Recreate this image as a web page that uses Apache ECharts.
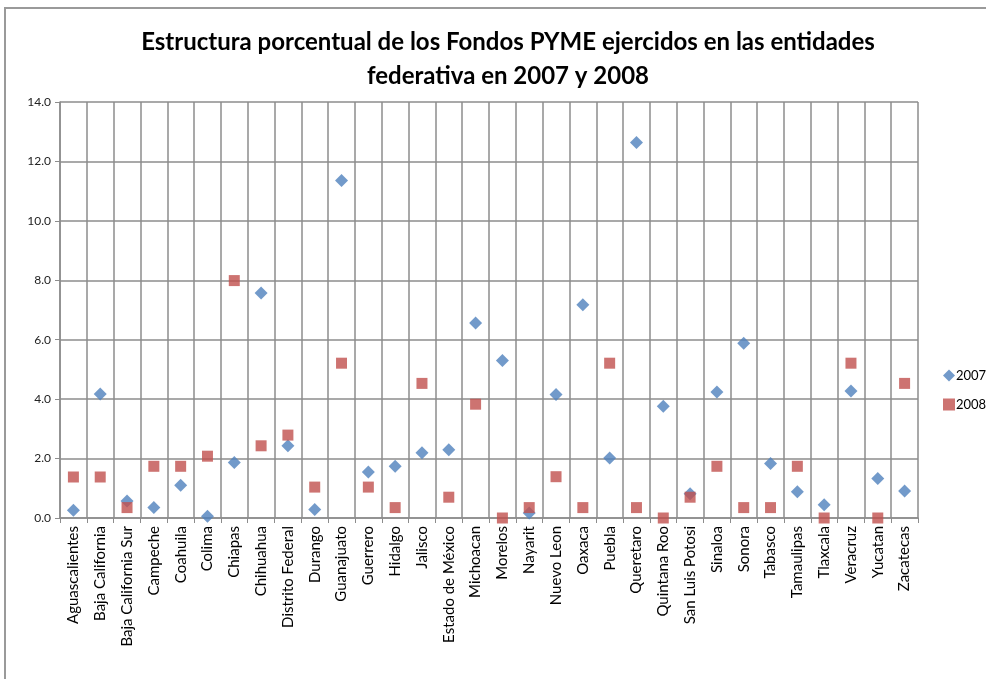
<!DOCTYPE html>
<html>
<head>
<meta charset="utf-8">
<script src="https://cdn.jsdelivr.net/npm/echarts@6/dist/echarts.min.js"></script>
<style>
html, body { margin: 0; padding: 0; background: #fff; }
#chart { width: 986px; height: 679px; }
</style>
</head>
<body>
<div id="chart"></div>
<script>
var estados = ['Aguascalientes', 'Baja California', 'Baja California Sur', 'Campeche', 'Coahuila',
    'Colima', 'Chiapas', 'Chihuahua', 'Distrito Federal', 'Durango', 'Guanajuato', 'Guerrero',
    'Hidalgo', 'Jalisco', 'Estado de México', 'Michoacan', 'Morelos', 'Nayarit', 'Nuevo Leon',
    'Oaxaca', 'Puebla', 'Queretaro', 'Quintana Roo', 'San Luis Potosi', 'Sinaloa', 'Sonora',
    'Tabasco', 'Tamaulipas', 'Tlaxcala', 'Veracruz', 'Yucatan', 'Zacatecas'];

var valores2007 = [0.26, 4.17, 0.57, 0.35, 1.10, 0.06, 1.87, 7.57, 2.43, 0.29, 11.36, 1.55,
    1.74, 2.20, 2.30, 6.56, 5.30, 0.17, 4.16, 7.18, 2.02, 12.64, 3.76, 0.82, 4.24, 5.88,
    1.83, 0.88, 0.45, 4.27, 1.33, 0.91];

var valores2008 = [1.38, 1.38, 0.35, 1.74, 1.74, 2.08, 7.99, 2.43, 2.79, 1.04, 5.21, 1.04,
    0.35, 4.53, 0.70, 3.83, 0.00, 0.35, 1.39, 0.35, 5.21, 0.35, 0.00, 0.70, 1.74, 0.35,
    0.35, 1.74, 0.00, 5.21, 0.00, 4.53];

var azul = '#4f81bd';
var rojo = '#c0504d';
var gris = '#8c8c8c';

var myChart = echarts.init(document.getElementById('chart'));

var option = {
    backgroundColor: '#fff',
    animation: false,
    textStyle: { fontFamily: 'Lato' },
    title: {
        text: 'Estructura porcentual de los Fondos PYME ejercidos en las entidades\nfederativa en 2007 y 2008',
        left: 503,
        textAlign: 'center',
        top: 20,
        textStyle: {
            fontFamily: 'Lato',
            fontWeight: 'bold',
            fontSize: 24,
            lineHeight: 34,
            color: '#000'
        }
    },
    graphic: [{
        type: 'rect',
        shape: { x: 5, y: 8, width: 1100, height: 800 },
        style: { fill: 'none', stroke: '#9a9a9a', lineWidth: 2 },
        silent: true
    }],
    legend: {
        orient: 'vertical',
        left: 938,
        top: 364,
        itemWidth: 12,
        itemHeight: 12,
        itemGap: 16,
        textStyle: { fontSize: 13, color: '#000', padding: [0, 0, 0, -4] },
        data: [
            { name: '2007', icon: 'diamond' },
            { name: '2008', icon: 'rect' }
        ]
    },
    grid: {
        left: 60,
        right: 68,
        top: 102,
        bottom: 161,
        containLabel: false
    },
    xAxis: {
        type: 'category',
        data: estados,
        boundaryGap: true,
        axisLine: { lineStyle: { color: gris, width: 1.5 } },
        axisTick: { show: true, length: 5, lineStyle: { color: gris } },
        splitLine: { show: true, lineStyle: { color: gris, width: 1.5 } },
        axisLabel: {
            interval: 0,
            rotate: 90,
            fontSize: 15,
            color: '#000',
            margin: 8
        }
    },
    yAxis: {
        type: 'value',
        min: 0,
        max: 14,
        interval: 2,
        axisLine: { show: true, lineStyle: { color: gris, width: 1.5 } },
        axisTick: { show: true, length: 5, lineStyle: { color: gris } },
        splitLine: { show: true, lineStyle: { color: gris, width: 1.5 } },
        axisLabel: {
            fontSize: 12,
            color: '#222',
            margin: 9,
            formatter: function (v) { return v.toFixed(1); }
        }
    },
    series: [{
        name: '2007',
        type: 'scatter',
        symbol: 'diamond',
        symbolSize: 13,
        itemStyle: { color: azul },
        data: valores2007
    }, {
        name: '2008',
        type: 'scatter',
        symbol: 'rect',
        symbolSize: 11,
        itemStyle: { color: rojo },
        data: valores2008
    }]
};

myChart.setOption(option);

window.onresize = function () {
    myChart.resize();
};
</script>
</body>
</html>
